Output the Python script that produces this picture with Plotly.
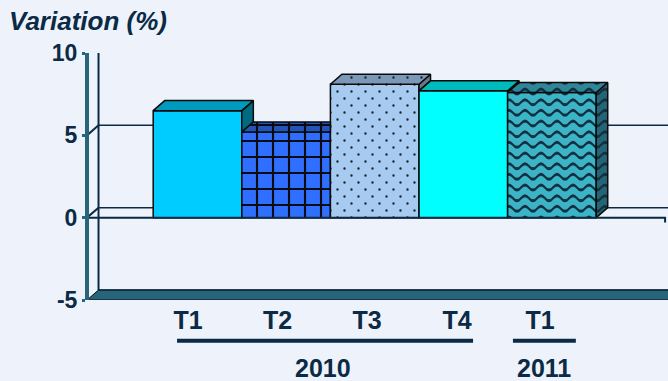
import plotly.graph_objects as go

categories = ["T1", "T2", "T3", "T4", "T1"]
values = [6.5, 5.2, 8.1, 7.7, 7.6]
y_ticks = [-5, 0, 5, 10]
label_shift = [-0.107, -0.097, -0.087, -0.07, -0.134]
years = ["2010", "2011"]
year_spans = [(-0.231, 3.11), (3.56, 4.27)]
year_centers = [1.416, 3.91]

front = ["#00ccff", "#2f6fff", "#a6caf0", "#00ffff", "#3cb4c8"]
top = ["#009abf", "#2255b8", "#7c98b8", "#00bbbb", "#2d8799"]
side = ["#006b80", "#1c4698", "#64788f", "#008f8f", "#246575"]

INK = "#0a2a45"
TEAL = "#27657a"
BG = "#eef2fa"
DX, DY = 11.5 / 88.6, 10 / 16.45
X0, XSTART, X1, XEND = -1.247, -1.2246, 5.277, 5.31
HALF = 0.5
FONT = "Liberation Sans, Arial, sans-serif"


def ribbon(r, t=3):
    up = f"M0,{r}Q4,{r-5} 8,{r}Q12,{r+5} 16,{r}Q20,{r-5} 24,{r}Q28,{r+5} 32,{r}"
    down = f"L32,{r+t}Q28,{r+t+5} 24,{r+t}Q20,{r+t-5} 16,{r+t}Q12,{r+t+5} 8,{r+t}Q4,{r+t-5} 0,{r+t}Z"
    return up + down


def dot(x, y, d=1.2):
    return f"M{x-d},{y}A{d},{d} 0 1,1 {x+d},{y}A{d},{d} 0 1,1 {x-d},{y}Z"


wave = "".join(ribbon(r) for r in (5, 15.67, 26.33))
dots = dot(3.5, 3.5) + dot(10.5, 10.5)
patterns = [
    None,
    dict(shape="+", size=16, solidity=0.25, fgcolor="#0a0a14", bgcolor=front[1], fillmode="replace"),
    dict(path=dots, size=14, fgcolor="#1a2530", bgcolor=front[2], fillmode="replace"),
    None,
    dict(path=wave, size=32, fgcolor="#123040", bgcolor=front[4], fillmode="replace"),
]


def poly(xs, ys, color, pat=None, lw=1.5):
    kw = {}
    if pat:
        kw["fillpattern"] = pat | dict(bgcolor=color)
    return go.Scatter(x=xs + xs[:1], y=ys + ys[:1], mode="lines", fill="toself", fillcolor=color,
                      line=dict(color="#0a0a0a", width=lw), hoverinfo="skip", showlegend=False, **kw)


def line(xs, ys, color=INK, width=2):
    return go.Scatter(x=xs, y=ys, mode="lines", line=dict(color=color, width=width), cliponaxis=False,
                      hoverinfo="skip", showlegend=False)


fig = go.Figure()

# back wall and floor
fig.add_trace(line([X0 + DX, X0 + DX], [-5 + DY, 10 + DY]))
fig.add_trace(line([X0, X0 + DX, XEND], [10, 10 + DY, 10 + DY]))
for t in y_ticks[1:3]:
    fig.add_trace(line([X0, X0 + DX], [t, t + DY]))
fig.add_trace(poly([X0, X0 + DX, XEND + DX, XEND], [-5, -5 + DY, -5 + DY, -5], TEAL, lw=1))
fig.add_trace(line([X0 + DX, XEND], [-5 + DY, -5 + DY], INK, 1.5))
fig.add_trace(line([X1, X1], [-5, -5.3], TEAL, 1))

# front faces
xs = list(range(len(values)))
for i, v in enumerate(values):
    fig.add_trace(go.Bar(x=[xs[i]], y=[v], width=1, marker=dict(color=front[i], pattern=patterns[i] or {},
                                                               line=dict(color="#0a0a0a", width=1.5)),
                         showlegend=False, name=categories[i]))

# tops and sides, clipped where the next bar's front hides them
for i, v in enumerate(values):
    l, r = xs[i] - HALF, xs[i] + HALF
    nxt = values[i + 1] if i + 1 < len(values) else 0
    pat = patterns[i]
    if nxt < v + DY:
        low = min(nxt, v)
        fig.add_trace(poly([r, r + DX, r + DX, r], [v, v + DY, low + DY, low], side[i], pat))
        fig.add_trace(poly([l, l + DX, r + DX, r], [v, v + DY, v + DY, v], top[i], pat))
    else:
        fig.add_trace(poly([l, l + DX, r, r], [v, v + DY, v + DY, v], top[i], pat))

# zero plane
fig.add_trace(line([X0, X1, X1], [0, 0, -0.3]))

fig.update_layout(
    width=668, height=381, autosize=False, barmode="overlay",
    margin=dict(l=89, r=0, t=53.3, b=81),
    paper_bgcolor=BG, plot_bgcolor=BG,
    font=dict(family=FONT, color=INK, size=18),
    title=dict(text="<b><i>Variation (%)</i></b>", x=9 / 668, xanchor="left", y=1 - 21 / 381, yanchor="middle",
               font=dict(size=26, color=INK)),
    xaxis=dict(range=[XSTART, XEND], showgrid=False, zeroline=False, showline=False, ticks="",
               tickmode="array", tickvals=[x + s for x, s in zip(xs, label_shift)], ticktext=categories,
               ticklabelstandoff=3, tickangle=0,
               tickfont=dict(size=25, color=INK, family=FONT, weight="bold")),
    yaxis=dict(range=[-5, 10], tickmode="array", tickvals=y_ticks, ticktext=["-5", "0", "5", "10"],
               showgrid=False, zeroline=False,
               showline=True, linecolor=TEAL, linewidth=4, ticks="outside", ticklen=3, tickwidth=3, tickcolor=TEAL,
               tickfont=dict(size=23, color=INK, family=FONT, weight="bold")),
    annotations=[dict(text=f"<b>{y}</b>", x=c, y=(300.3 - 368) / 246.7, xref="x", yref="paper", showarrow=False,
                      yanchor="middle", font=dict(size=25, color=INK)) for y, c in zip(years, year_centers)],
    shapes=[dict(type="line", x0=a, x1=b, y0=(300.3 - 341) / 246.7, y1=(300.3 - 341) / 246.7, xref="x", yref="paper",
                 line=dict(color=INK, width=4)) for a, b in year_spans]
           + [dict(type="line", x0=X0 + DX, x1=XEND, y0=t + DY, y1=t + DY, xref="x", yref="y", layer="below",
                   line=dict(color=INK, width=1.5)) for t in y_ticks[1:3]],
)
fig.write_html("out.html", config=dict(displayModeBar=False),
               post_script=f"document.body.style.margin='0';document.body.style.background='{BG}';")
